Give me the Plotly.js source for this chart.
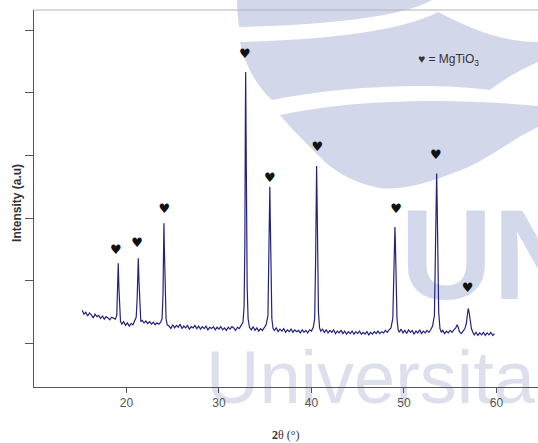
<!DOCTYPE html>
<html>
<head>
<meta charset="utf-8">
<script src="https://cdn.plot.ly/plotly-3.0.1.min.js"></script>
<style>html,body{margin:0;padding:0;background:#fff;overflow:hidden}#chart{width:538px;height:443px}</style>
</head>
<body>
<div id="chart"></div>
<script>
// XRD pattern (2θ in degrees, intensity in arbitrary units)
const twoTheta = [
  15.2,15.4,15.6,15.8,16.0,16.2,16.4,16.6,16.8,17.0,17.2,17.4,17.6,17.8,18.0,18.2,18.4,18.6,18.8,
  18.95,19.02,19.11,19.18,19.25,19.35,
  19.5,19.7,19.9,20.1,20.3,20.5,20.7,20.9,
  21.05,21.15,21.22,21.28,21.35,21.45,21.55,
  21.7,21.9,22.1,22.3,22.5,22.7,22.9,23.1,23.3,23.5,23.7,
  23.85,23.95,24.02,24.05,24.1,24.18,24.28,24.4,
  24.6,24.8,25.0,25.2,25.4,25.6,25.8,26.0,26.2,26.4,26.6,26.8,27.0,27.2,27.4,27.6,27.8,28.0,28.2,28.4,
  28.6,28.8,29.0,29.2,29.4,29.6,29.8,30.0,30.2,30.4,30.6,30.8,31.0,31.2,31.4,31.6,31.8,32.0,32.2,32.4,
  32.6,32.72,32.8,32.86,32.89,32.93,32.98,33.05,33.15,33.3,
  33.5,33.7,33.9,34.1,34.3,34.5,34.7,34.9,35.1,
  35.3,35.4,35.47,35.5,35.55,35.62,35.72,35.85,
  36.0,36.2,36.4,36.6,36.8,37.0,37.2,37.4,37.6,37.8,38.0,38.2,38.4,38.6,38.8,39.0,39.2,39.4,39.6,39.8,40.0,40.2,
  40.35,40.45,40.52,40.56,40.6,40.67,40.76,40.88,
  41.0,41.2,41.4,41.6,41.8,42.0,42.2,42.4,42.6,42.8,43.0,43.2,43.4,43.6,43.8,44.0,44.2,44.4,44.6,44.8,
  45.0,45.2,45.4,45.6,45.8,46.0,46.2,46.4,46.6,46.8,47.0,47.2,47.4,47.6,47.8,48.0,48.2,48.4,48.6,
  48.8,48.9,48.97,49.03,49.08,49.15,49.25,49.38,
  49.5,49.7,49.9,50.1,50.3,50.5,50.7,50.9,51.1,51.3,51.5,51.7,51.9,52.1,52.3,52.5,52.7,52.9,53.1,
  53.3,53.4,53.48,53.54,53.59,53.66,53.76,53.9,
  54.05,54.2,54.4,54.6,54.8,55.0,55.2,55.4,
  55.6,55.75,55.85,56.0,56.2,56.4,56.6,
  56.75,56.85,56.95,57.05,57.15,57.3,57.45,
  57.6,57.8,58.0,58.2,58.4,58.6,58.8,59.0,59.2,59.4,59.6,59.8
];
const intensity = [
  153,147,150,144,149,146,141,147,143,145,140,144,139,143,141,138,142,140,139,
  145,175,228,190,150,136,
  131,135,129,133,128,132,130,136,
  142,170,205,236,200,150,135,
  137,133,136,132,135,131,134,130,133,131,134,
  140,180,260,292,250,175,140,130,
  128,124,130,125,129,126,131,124,128,125,129,123,127,125,129,124,128,123,127,124,
  128,122,126,124,127,122,126,123,127,122,125,121,126,123,127,125,121,126,124,129,
  134,160,260,470,533,440,300,190,140,126,
  122,127,121,125,120,124,121,126,130,
  145,220,320,350,300,200,140,124,
  121,125,119,123,120,124,118,122,119,123,118,122,119,121,117,122,118,121,117,122,120,126,
  140,230,350,383,340,230,150,125,
  120,123,118,122,117,121,118,122,116,120,117,121,116,120,115,119,116,120,115,119,
  116,120,115,118,115,119,114,118,115,119,116,120,116,119,117,121,118,122,125,
  140,200,265,286,260,200,140,122,
  118,123,117,121,116,122,118,121,115,120,117,122,116,120,117,121,118,122,128,
  145,230,340,371,330,230,150,124,
  118,121,116,120,117,121,118,122,
  125,130,127,119,116,120,124,
  132,148,156,150,136,124,118,
  114,118,113,117,114,118,113,117,114,118,113,116
];
// MgTiO3 peak markers (♥)
const markX = [18.86,21.14,24.09,32.81,35.51,40.63,49.14,53.46,56.89];
const markY = [248,260,313,560,363,413,313,400,187];
const xTicks = [20,30,40,50,60];
const yTicks = [100,200,300,400,500,600];

// --- background watermark (decoration only) ---
const wmText = ['UN', 'Universitas'];
const wmX = [49.6, 28.6];
const wmY = [222, 94];
const wmPos = ['middle right', 'bottom right'];
const wmSize = [128, 74];

const PL = 34, PW = 504, PB = 386.7, PH = 376.7;
function wcmd(cmds) {
  return cmds.map(c => c[0] + ' ' + c.slice(1).reduce((s, v, i) =>
    s + (i % 2 === 0 ? ((v - PL) / PW).toFixed(4) : ',' + ((PB - v) / PH).toFixed(4) + ' '), '')).join(' ') + ' Z';
}
const lav = '#d3d7ea';
const bands = [
  [['M',237,0],['L',432,0],['C',400,18,320,25,239,27],['C',238,18,237,9,237,0]],
  [['M',240,42],['C',320,40,400,32,438,12],['C',470,28,500,42,538,42],['L',538,62],['C',515,72,500,82,490,90],
   ['C',430,82,340,86,272,100],['C',256,85,245,65,240,42]],
  [['M',280,115],['C',350,100,440,97,538,106],['L',538,127],['C',510,140,480,165,455,172],['C',430,182,405,190,380,188],
   ['C',350,182,330,168,320,157],['C',300,137,288,125,280,115]]
];
const wmShapes = bands.map(b => ({type: 'path', xref: 'paper', yref: 'paper', layer: 'below',
  fillcolor: lav, line: {width: 0}, path: wcmd(b)}));

const traces = [
  {x: wmX.slice(0, 1), y: wmY.slice(0, 1), type: 'scatter', mode: 'text', text: wmText.slice(0, 1),
   textposition: wmPos[0], cliponaxis: false, hoverinfo: 'skip',
   textfont: {family: 'Liberation Sans', size: wmSize[0], color: '#d4d8eb', weight: 'bold'}},
  {x: wmX.slice(1), y: wmY.slice(1), type: 'scatter', mode: 'text', text: wmText.slice(1),
   textposition: wmPos[1], cliponaxis: false, hoverinfo: 'skip',
   textfont: {family: 'Liberation Sans', size: wmSize[1], color: '#dcdfec'}},
  {x: twoTheta, y: intensity, type: 'scatter', mode: 'lines',
   line: {color: '#23237f', width: 1.2}, hoverinfo: 'skip'},
  {x: markX, y: markY, type: 'scatter', mode: 'text', text: markX.map(() => '♥'),
   textposition: 'middle center', textfont: {family: 'DejaVu Sans', size: 13, color: '#111'}, hoverinfo: 'skip'}
];

const layout = {
  width: 538, height: 443,
  margin: {l: 34, r: 0, t: 10, b: 56},
  paper_bgcolor: '#fff', plot_bgcolor: 'rgba(0,0,0,0)',
  showlegend: false,
  font: {family: 'Liberation Sans, Arial, sans-serif', size: 12, color: '#444'},
  xaxis: {range: [10, 64.5], tickvals: xTicks, ticks: 'outside', ticklen: 5, tickcolor: '#555',
          showline: true, linecolor: '#555', linewidth: 1, showgrid: false, zeroline: false,
          tickfont: {size: 12, color: '#555'}},
  yaxis: {range: [30.8, 631.9], tickvals: yTicks, ticks: 'outside', ticklen: 8, tickcolor: '#555',
          showticklabels: false, showline: true, linecolor: '#555', linewidth: 1, showgrid: false, zeroline: false},
  shapes: wmShapes.concat([
    {type: 'line', xref: 'paper', yref: 'paper', x0: 0, x1: 1, y0: 1, y1: 1, line: {color: '#b4b4b4', width: 1}}
  ]),
  annotations: [
    {text: '♥ = MgTiO<sub>3</sub>', xref: 'x', yref: 'y', x: 51.3, y: 552, xanchor: 'left', yanchor: 'middle',
     showarrow: false, font: {family: 'Liberation Sans', size: 12, color: '#333'}},
    {text: 'Intensity (a.u)', xref: 'paper', yref: 'paper', x: -0.034, y: 0.488, textangle: -90,
     xanchor: 'center', yanchor: 'middle', showarrow: false,
     font: {family: 'Liberation Sans', size: 12, color: '#333', weight: 'bold'}},
    {text: '<b>2</b>θ (°)', xref: 'paper', yref: 'paper', x: 0.5, y: -0.128, xanchor: 'center', yanchor: 'middle',
     showarrow: false, font: {family: 'Liberation Serif', size: 12, color: '#333'}}
  ]
};

Plotly.newPlot('chart', traces, layout, {displayModeBar: false, staticPlot: true});
</script>
</body>
</html>
